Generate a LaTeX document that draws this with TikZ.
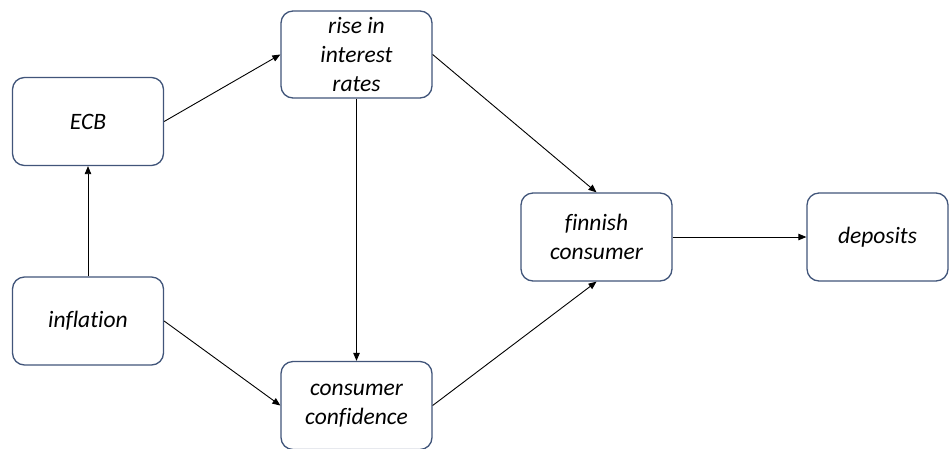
\documentclass[tikz,border=0pt]{standalone}
\usepackage{fontspec}
\setmainfont{Carlito}[Ligatures=NoCommon]
\usetikzlibrary{arrows.meta}
\definecolor{boxline}{HTML}{41557A}
\begin{document}
\begin{tikzpicture}[x=1pt,y=1pt,
  box/.style={draw=boxline, line width=1.3pt, rounded corners=12pt, fill=white,
    minimum width=151pt, minimum height=88pt, inner sep=0pt,
    align=center, font=\fontsize{23.5}{29}\selectfont\itshape},
  conn/.style={draw=black, line width=0.9pt, -{Triangle[length=8pt,width=6.5pt]}}]
\useasboundingbox (0,0) rectangle (949,-448);
\fill[white] (0,0) rectangle (949,-448);
\node[box] (ecb) at (88,-121.5) {ECB};
\node[box] (infl) at (88,-321) {inflation};
\node[box, minimum height=87pt] (rise) at (356.5,-54.5) {rise in\\interest\\rates};
\node[box] (conf) at (356.5,-405.5) {consumer\\confidence};
\node[box] (fin) at (596.5,-237) {finnish\\consumer};
\node[box, minimum width=141pt] (dep) at (877.5,-237) {deposits};
\draw[conn] (infl.north) -- (ecb.south);
\draw[conn] (ecb.east) -- (rise.west);
\draw[conn] (rise.south) -- (conf.north);
\draw[conn] (infl.east) -- (conf.west);
\draw[conn] (rise.east) -- (fin.north);
\draw[conn] (conf.east) -- (fin.south);
\draw[conn] (fin.east) -- (dep.west);
\end{tikzpicture}
\end{document}
